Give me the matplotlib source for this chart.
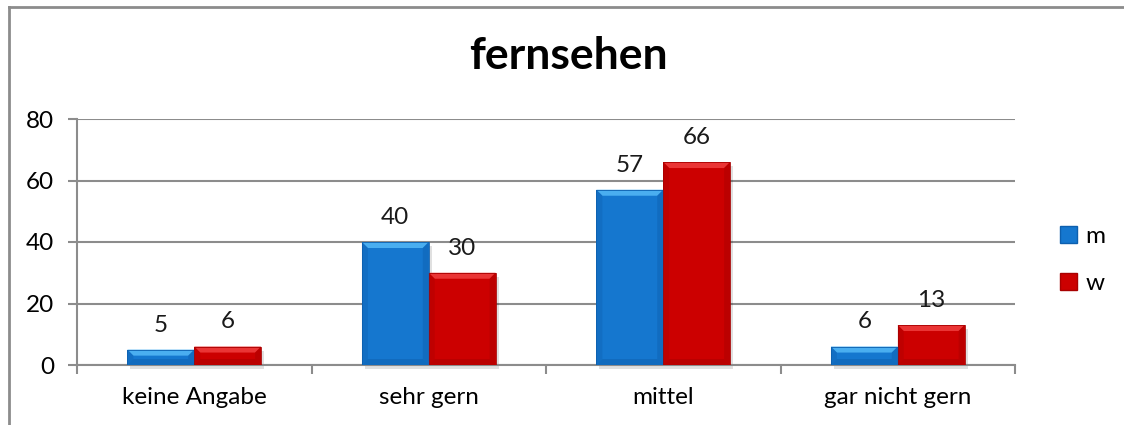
import matplotlib
matplotlib.use("Agg")
import matplotlib.pyplot as plt
from matplotlib.patches import Polygon, Rectangle, Patch
import numpy as np

categories = ["keine Angabe", "sehr gern", "mittel", "gar nicht gern"]
m_values = [5, 40, 57, 6]
w_values = [6, 30, 66, 13]
series_names = ["m", "w"]
title = "fernsehen"
yticks = [0, 20, 40, 60, 80]

plt.rcParams['font.family'] = ['Lato', 'DejaVu Sans']
FS = 17.5

fig = plt.figure(figsize=(11.24, 4.25), dpi=100)
ax = fig.add_axes([77/1124, 60/425, (1015-77)/1124, (365-119)/425])

# chart border (left and top)
fig.add_artist(plt.Line2D([9/1124, 9/1124], [0, 1-7/425], color="#8c8c8c", lw=2, transform=fig.transFigure))
fig.add_artist(plt.Line2D([9/1124, 1], [1-7/425, 1-7/425], color="#8c8c8c", lw=2, transform=fig.transFigure))

n = len(categories)
x = np.arange(n)
bw = 0.285
colors = {"m": ("#1577CF", "#4AAEF0", "#0D5FAE", "#0C579F"),
          "w": ("#CC0000", "#EA3535", "#A80000", "#9A0000")}

ax.set_xlim(-0.5, n - 0.5)
ax.set_ylim(0, 80)

fig.canvas.draw()
inv = ax.transData.inverted()
p0 = inv.transform((0, 0))
p1 = inv.transform((6, 6))
dx = p1[0] - p0[0]
dy = p1[1] - p0[1]
s1 = inv.transform((3, -4))
sdx = s1[0] - p0[0]
sdy = p0[1] - s1[1]

def bevel_bar(xc, h, cols):
    base, top, side, bot = cols
    x0, x1 = xc - bw/2, xc + bw/2
    ax.add_patch(Rectangle((x0 + sdx, -sdy), bw, h, facecolor="#000000", alpha=0.12,
                           edgecolor="none", zorder=2.5, clip_on=False))
    ax.add_patch(Rectangle((x0, 0), bw, h, facecolor=base, edgecolor="none", zorder=3))
    d = min(dy, h/2)
    ddx = dx * d / dy
    ax.add_patch(Polygon([(x0, h), (x1, h), (x1-ddx, h-d), (x0+ddx, h-d)], closed=True,
                         facecolor=top, edgecolor="none", zorder=4))
    ax.add_patch(Polygon([(x0, h), (x0+ddx, h-d), (x0+ddx, d), (x0, 0)], closed=True,
                         facecolor=side, edgecolor="none", alpha=0.35, zorder=4))
    ax.add_patch(Polygon([(x1, h), (x1-ddx, h-d), (x1-ddx, d), (x1, 0)], closed=True,
                         facecolor=side, edgecolor="none", alpha=0.45, zorder=4))
    ax.add_patch(Polygon([(x0, 0), (x0+ddx, d), (x1-ddx, d), (x1, 0)], closed=True,
                         facecolor=bot, edgecolor="none", alpha=0.35, zorder=4))
    ax.add_patch(Rectangle((x0, 0), bw, h, facecolor="none", edgecolor=side, lw=0.6, zorder=5))

for i in range(n):
    bevel_bar(x[i] - bw/2, m_values[i], colors["m"])
    bevel_bar(x[i] + bw/2, w_values[i], colors["w"])
    ax.annotate(str(m_values[i]), (x[i] - bw/2, m_values[i]), xytext=(0, 13),
                textcoords="offset points", ha="center", va="baseline", fontsize=FS, color="#1a1a1a")
    ax.annotate(str(w_values[i]), (x[i] + bw/2, w_values[i]), xytext=(0, 13),
                textcoords="offset points", ha="center", va="baseline", fontsize=FS, color="#1a1a1a")

ax.set_yticks(yticks)
ax.set_yticklabels([str(v) for v in yticks], fontsize=FS)
ax.yaxis.grid(True, color="#8c8c8c", lw=1.5)
ax.set_axisbelow(True)
ax.set_xticks(x)
ax.set_xticklabels(categories, fontsize=FS)
ax.set_xticks(np.arange(n + 1) - 0.5, minor=True)
ax.tick_params(axis="x", which="major", length=0, pad=16)
ax.tick_params(axis="x", which="minor", length=6.5, width=1.5, color="#8c8c8c")
ax.tick_params(axis="y", length=6.5, width=1.5, color="#8c8c8c", pad=10)
for s in ["top", "right"]:
    ax.spines[s].set_visible(False)
for s in ["left", "bottom"]:
    ax.spines[s].set_color("#8c8c8c")
    ax.spines[s].set_linewidth(1.5)

fig.text(568/1124, 1 - 56/425, title, ha="center", va="center", fontsize=32, fontweight="bold")

handles = [Patch(facecolor=colors["m"][0], edgecolor=colors["m"][2]),
           Patch(facecolor=colors["w"][0], edgecolor=colors["w"][2])]
fig.legend(handles, series_names, loc="center left", bbox_to_anchor=(1038/1124, 1 - 260/425),
           frameon=False, fontsize=FS, handlelength=0.7, handleheight=0.7, handletextpad=0.35,
           labelspacing=1.05)

fig.savefig("out.png", dpi=100)
